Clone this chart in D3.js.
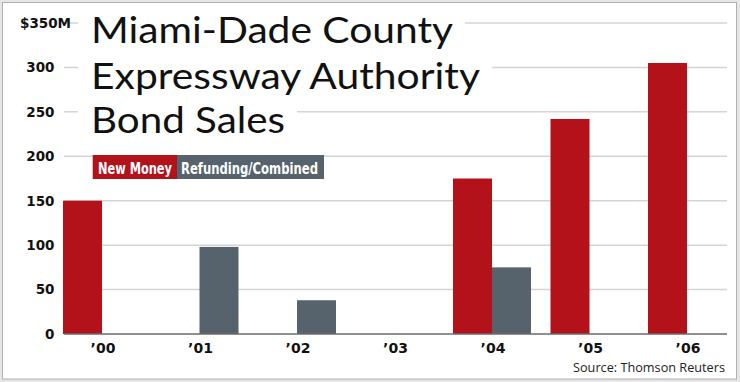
<!DOCTYPE html>
<html>
<head>
<meta charset="utf-8">
<script src="https://cdn.jsdelivr.net/npm/d3@7/dist/d3.min.js"></script>
<style>
  html, body { margin: 0; padding: 0; background: #fff; }
  svg { display: block; }
</style>
</head>
<body>
<svg id="chart" width="740" height="382"></svg>
<script>
// ---- data ----
const categories = ["\u201900", "\u201901", "\u201902", "\u201903", "\u201904", "\u201905", "\u201906"];
const newMoney   = [150, null, null, null, 175, 242, 305];
const refunding  = [null, 98, 38, null, 75, null, null];
const yTicks     = [0, 50, 100, 150, 200, 250, 300, 350];
const seriesNames = ["New Money", "Refunding/Combined"];
const titleLines = ["Miami-Dade County", "Expressway Authority", "Bond Sales"];
const sourceText = "Source: Thomson Reuters";

// ---- styles ----
const RED = "#b3121a", GRAY = "#56636d";

const svg = d3.select("#chart");

// frame
svg.append("rect").attr("x", 0).attr("y", 0).attr("width", 740).attr("height", 382).attr("fill", "#e6e6e6");
svg.append("rect").attr("x", 2.5).attr("y", 2.5).attr("width", 734).attr("height", 376.5)
  .attr("fill", "#fff").attr("stroke", "#b0b0b0").attr("stroke-width", 1);

const y = d3.scaleLinear().domain([0, 350]).range([334, 23]);
const x0 = d3.scaleBand().domain(categories).range([63, 726]).paddingInner(0.2).paddingOuter(0);
const x1 = d3.scaleBand().domain(seriesNames).range([0, x0.bandwidth()]);

const plotLeft = 64, plotRight = 727;

// gridlines
svg.append("g").selectAll("line").data(yTicks.filter(d => d > 0)).join("line")
  .attr("x1", plotLeft).attr("x2", plotRight)
  .attr("y1", d => y(d)).attr("y2", d => y(d))
  .attr("stroke", "#d4d4d4").attr("stroke-width", 1.5);

// y tick labels
const yl = svg.append("g").attr("font-family", "DejaVu Sans").attr("font-weight", "bold")
  .attr("fill", "#111");
yl.selectAll("text").data(yTicks).join("text")
  .attr("x", d => d === 350 ? 71 : 54.5)
  .attr("y", d => y(d))
  .attr("dy", "0.36em")
  .attr("text-anchor", "end")
  .attr("font-size", 13.5)
  .text(d => d === 350 ? "$" + d + "M" : d);

// title with white backing
const tg = svg.append("g");
const titleBaselines = [43, 89, 133];
const titleWidths = [362, 389, 194];
titleLines.forEach((t, i) => {
  tg.append("rect")
    .attr("x", 78).attr("y", titleBaselines[i] - 30)
    .attr("width", 91 + titleWidths[i] + 12 - 78).attr("height", 38)
    .attr("fill", "#fff");
  tg.append("text")
    .attr("x", 91).attr("y", titleBaselines[i])
    .attr("font-family", "Lato").attr("font-size", 36)
    .attr("fill", "#111")
    .attr("textLength", titleWidths[i]).attr("lengthAdjust", "spacingAndGlyphs")
    .text(t);
});

// bars
const bars = svg.append("g");
categories.forEach((c, i) => {
  const vals = [newMoney[i], refunding[i]];
  vals.forEach((v, j) => {
    if (v == null) return;
    bars.append("rect")
      .attr("x", x0(c) + x1(seriesNames[j]))
      .attr("width", x1.bandwidth())
      .attr("y", y(v))
      .attr("height", y(0) - y(v))
      .attr("fill", j === 0 ? RED : GRAY);
  });
});

// baseline
svg.append("line").attr("x1", plotLeft).attr("x2", plotRight)
  .attr("y1", y(0)).attr("y2", y(0)).attr("stroke", "#6b6b6b").attr("stroke-width", 1.5);

// x labels
const xAxis = d3.axisBottom(x0).tickSize(0).tickPadding(0);
const xg = svg.append("g").attr("transform", `translate(0,${y(0)})`).call(xAxis);
xg.select(".domain").remove();
xg.selectAll("text")
  .attr("font-family", "DejaVu Sans").attr("font-weight", "bold").attr("font-size", 14)
  .attr("fill", "#111").attr("y", 19).attr("dy", null)
  .attr("dx", 1);

// legend
const lg = svg.append("g");
const legX = [92.7, 177], legW = [84.3, 147], legTextX = [98, 181], legTextW = [74, 137];
seriesNames.forEach((s, i) => {
  lg.append("rect").attr("x", legX[i]).attr("y", 155).attr("width", legW[i]).attr("height", 24)
    .attr("fill", i === 0 ? RED : GRAY);
  lg.append("text").attr("x", legTextX[i]).attr("y", 173.5)
    .attr("font-family", "DejaVu Sans Condensed").attr("font-weight", "bold").attr("font-size", 15)
    .attr("fill", "#fff").attr("textLength", legTextW[i]).attr("lengthAdjust", "spacingAndGlyphs")
    .text(s);
});

// source
svg.append("text").attr("x", 725).attr("y", 372).attr("text-anchor", "end")
  .attr("font-family", "Open Sans").attr("font-size", 13).attr("fill", "#222")
  .attr("textLength", 152).attr("lengthAdjust", "spacingAndGlyphs")
  .text(sourceText);
</script>
</body>
</html>
